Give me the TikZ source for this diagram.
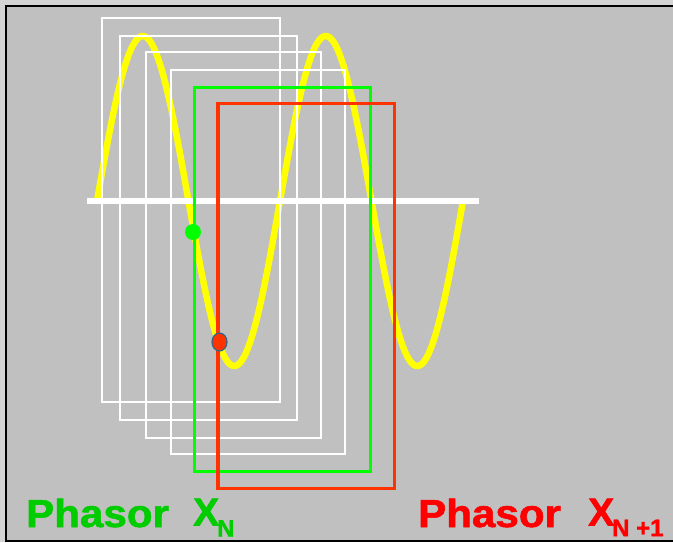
\documentclass[tikz,border=0pt]{standalone}
\usepackage{fontspec}
\newfontfamily\labfont[FakeBold=1.5]{Liberation Sans}
\definecolor{bggray}{HTML}{C0C0C0}
\definecolor{outgray}{HTML}{D4D4D4}
\definecolor{wavey}{HTML}{FFFF00}
\definecolor{boxgreen}{HTML}{00FF00}
\definecolor{boxred}{HTML}{FF3300}
\definecolor{txtgreen}{HTML}{00CC00}
\definecolor{txtred}{HTML}{FF0000}
\definecolor{dotrim}{HTML}{336688}
\tikzset{
  whitebox/.style={draw=white,line width=2.2pt},
  greenbox/.style={draw=boxgreen,line width=3pt},
  redbox/.style={draw=boxred,line width=3.4pt},
  bigtxt/.style={inner sep=0pt,anchor=base west,font=\labfont\bfseries\fontsize{39}{39}\selectfont},
  subtxt/.style={inner sep=0pt,anchor=base west,font=\labfont\bfseries\fontsize{24}{24}\selectfont},
}
\begin{document}
\begin{tikzpicture}[x=1pt,y=-1pt]
\useasboundingbox (0,0) rectangle (673,542);
\fill[outgray] (0,0) rectangle (673,542);
\fill[bggray] (6.5,6.5) rectangle (673,541);
\draw[black,line width=2pt] (6,542) -- (6,6) -- (673,6);
\draw[black,line width=2pt] (6,541) -- (673,541);
% wave
\draw[wavey,line width=6.5pt,line join=round] plot[domain=97:463,samples=240,smooth] (\x,{201-165*sin(1.96721*(\x-97))});
% axis
\draw[white,line width=6pt] (87,201) -- (479,201);
% boxes
\draw[whitebox] (101.7,18) rectangle (280,401.7);
\draw[whitebox] (120.3,35.7) rectangle (297,420);
\draw[whitebox] (146.3,52.3) rectangle (320.7,437.7);
\draw[whitebox] (170.7,70) rectangle (345.3,454);
\draw[greenbox] (194,87.8) rectangle (370,471.3);
\draw[redbox] (218,103.3) rectangle (394.3,488.7);
% dots
\fill[boxgreen] (193,232) circle[radius=8];
\filldraw[fill=boxred,draw=dotrim,line width=1.2pt] (219.5,342) ellipse[x radius=7.5,y radius=9];
% labels
\node[bigtxt,text=txtgreen] (pg) at (26,527) {\scalebox{1.08}[1]{Phasor}};
\node[bigtxt,text=txtgreen] (xg) at (193,525.5) {X};
\node[subtxt,text=txtgreen] (ng) at (217,536.7) {N};
\node[bigtxt,text=txtred] (pr) at (418,527) {\scalebox{1.08}[1]{Phasor}};
\node[bigtxt,text=txtred] (xr) at (588,525.5) {X};
\node[subtxt,text=txtred] (nr) at (612,536.2) {N +1};
\end{tikzpicture}
\end{document}
